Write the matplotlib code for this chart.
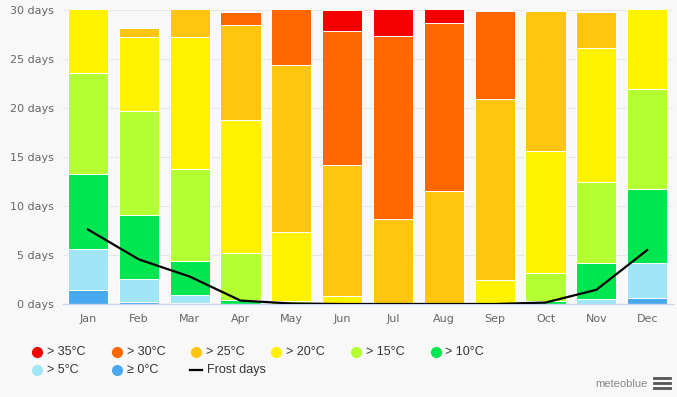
import matplotlib
matplotlib.use("Agg")
import matplotlib.pyplot as plt
from matplotlib.lines import Line2D
import numpy as np

months = ["Jan", "Feb", "Mar", "Apr", "May", "Jun", "Jul", "Aug", "Sep", "Oct", "Nov", "Dec"]

# days per month in each max-temperature class (bottom to top of the stack)
ge0 = [1.4, 0.25, 0.15, 0, 0, 0, 0, 0, 0, 0, 0, 0.65]
gt5 = [4.2, 2.35, 0.75, 0, 0, 0, 0, 0, 0, 0, 0.5, 3.55]
gt10 = [7.7, 6.45, 3.5, 0.45, 0, 0, 0, 0, 0, 0.3, 3.7, 7.5]
gt15 = [10.3, 10.65, 9.4, 4.75, 0.3, 0, 0, 0, 0, 2.9, 8.2, 10.2]
gt20 = [7.4, 7.55, 13.4, 13.6, 7.0, 0.8, 0, 0, 2.45, 12.4, 13.7, 9.1]
gt25 = [0, 0.9, 3.8, 9.7, 17.1, 13.4, 8.7, 11.5, 18.5, 14.3, 3.7, 0]
gt30 = [0, 0, 0, 1.3, 6.6, 13.7, 18.6, 17.2, 8.95, 0.1, 0, 0]
gt35 = [0, 0, 0, 0, 0, 2.1, 3.7, 2.3, 0.1, 0, 0, 0]
frost = [7.6, 4.55, 2.8, 0.35, 0.05, 0, 0, 0, 0, 0.15, 1.45, 5.5]

labels = ["> 35°C", "> 30°C", "> 25°C", "> 20°C", "> 15°C", "> 10°C", "> 5°C", "≥ 0°C"]
colors = ["#f40000", "#ff6600", "#ffc50f", "#fff200", "#b4ff32", "#00e650", "#a0e6f6", "#4aa8ee"]

bg = "#f8f8f8"
fig = plt.figure(figsize=(6.77, 3.97), dpi=100, facecolor=bg)
ax = fig.add_axes([62.6 / 677, 1 - 304 / 397, 610 / 677, 294 / 397], facecolor=bg)

x = np.arange(len(months))
series = [ge0, gt5, gt10, gt15, gt20, gt25, gt30, gt35]
bottom = np.zeros(len(months))
for vals, col in zip(series, colors[::-1]):
    vals = np.array(vals)
    ax.bar(x, vals, width=0.79, bottom=bottom, color=col, edgecolor="white",
           linewidth=0.7, zorder=2)
    bottom += vals

ax.plot(x, frost, color="black", lw=1.6, zorder=3)

ax.set_xlim(-0.5, 11.5)
ax.set_ylim(0, 30)
ax.set_yticks(range(0, 31, 5))
ax.set_yticklabels([f"{v} days" for v in range(0, 31, 5)])
ax.set_xticks(x)
ax.set_xticklabels(months)
ax.tick_params(axis="both", length=0, labelsize=8, colors="#666666")
ax.tick_params(axis="y", pad=6)
ax.tick_params(axis="x", pad=7)
ax.grid(axis="y", color="#e6e6e6", lw=0.8, zorder=0)
for s in ["top", "right", "left"]:
    ax.spines[s].set_visible(False)
ax.spines["bottom"].set_color("#ccd6eb")
ax.spines["bottom"].set_linewidth(1)

# legend
W, H = 677.0, 397.0
leg_font = ["Liberation Sans", "DejaVu Sans"]
for i, (lab, col) in enumerate(zip(labels, colors)):
    r, c = divmod(i, 6)
    px = 37 + c * 79.7
    py = 352 + r * 18
    fig.add_artist(Line2D([px / W], [1 - py / H], marker="o", ms=7, color=col,
                          lw=0, transform=fig.transFigure))
    fig.text((px + 10) / W, 1 - py / H, lab, fontsize=9, color="#333333",
             va="center", ha="left", family=leg_font)
fig.add_artist(Line2D([190 / W, 202 / W], [1 - 370 / H] * 2, color="black", lw=1.6,
                      transform=fig.transFigure))
fig.text(207 / W, 1 - 370 / H, "Frost days", fontsize=9, color="#333333",
         va="center", ha="left", family=leg_font)

fig.text(648 / W, 1 - 384 / H, "meteoblue", fontsize=8, color="#888888",
         va="center", ha="right", family=leg_font)
for k in range(3):
    yy = 1 - (378 + k * 5) / H
    fig.add_artist(Line2D([654 / W, 670 / W], [yy, yy], color="#555555", lw=2,
                          transform=fig.transFigure))

fig.savefig("out.png", dpi=100, facecolor=bg)
